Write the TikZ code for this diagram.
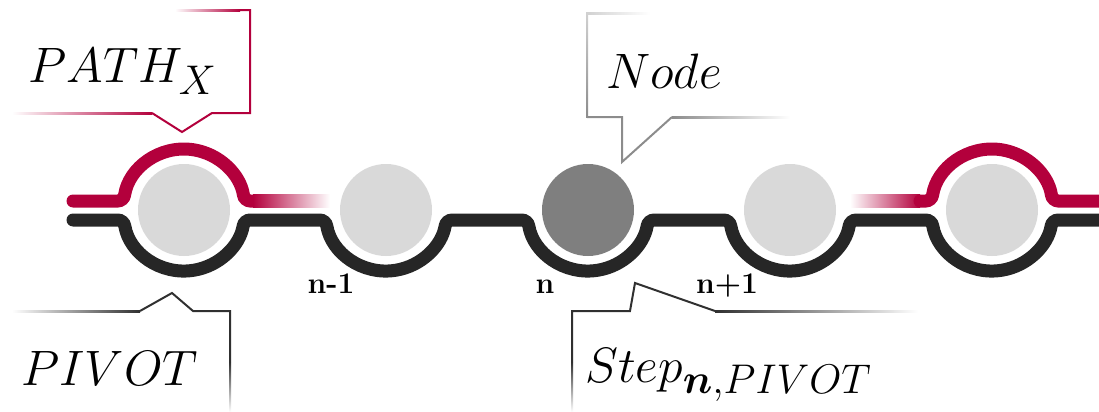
\documentclass[tikz,border=0pt]{standalone}
\usepackage{bm}
\usetikzlibrary{positioning}
\definecolor{PathRed}{HTML}{B3003C}
\definecolor{Track}{HTML}{262626}
\definecolor{DotGray}{HTML}{D9D9D9}
\definecolor{DotDark}{HTML}{7F7F7F}
\definecolor{TagGray}{HTML}{8C8C8C}
\definecolor{TagDark}{HTML}{303030}

\begin{document}
\begin{tikzpicture}[
    x=0.5pt, y=-0.5pt,
    dot/.style={circle, inner sep=0pt, minimum size=46pt},
    track/.style={line width=6.5pt, line cap=round, rounded corners=3pt},
    tag/.style={line width=1pt, line join=miter},
    tagtext/.style={font=\fontsize{31}{34}\selectfont, anchor=base west, inner sep=0pt},
    idx/.style={font=\fontsize{15}{17}\selectfont\bfseries, anchor=base, inner sep=0pt}
  ]
    \useasboundingbox (0,0) rectangle (1099,412);

    % nodes on the track
    \foreach \i/\cx/\col in {1/184/DotGray, 2/386/DotGray, 3/588/DotDark, 4/790/DotGray, 5/992/DotGray}
      \node[dot, fill=\col] (n\i) at (\cx,210) {};

    % black track
    \draw[track, Track] (73,220)
      \foreach \cx in {184,386,588,790,992} {
        -- (\cx-60.2,220) arc[start angle=170.6, end angle=9.4, radius=61]
      } -- (1110,220);

    % red path
    \draw[track, PathRed] (73,201) -- (123.7,201)
      arc[start angle=188.5, end angle=351.5, radius=61] -- (253,201);
    \shade[left color=PathRed, right color=white] (253,194.5) rectangle (330,207.5);
    \shade[left color=white, right color=PathRed] (850,194.5) rectangle (920,207.5);
    \draw[track, PathRed] (920,201) -- (931.7,201)
      arc[start angle=188.5, end angle=351.5, radius=61] -- (1110,201);

    % step indices
    \node[idx] (i2) at (331,293) {n-1};
    \node[idx] (i3) at (545,293) {n};
    \node[idx] (i4) at (727,293) {n+1};

    % callout: path
    \draw[tag, PathRed] (240,10) -- (250,10) -- (250,113) -- (212,113) -- (182,132) -- (152,113);
    \shade[left color=white, right color=PathRed] (175,9) rectangle (240,11);
    \shade[left color=white, right color=PathRed] (12,112) rectangle (152,114);
    \node[tagtext] (tpath) at (28,83) {$PATH_X$};

    % callout: node
    \draw[tag, TagGray] (587,117) -- (622,117) -- (622,162) -- (672,117);
    \shade[top color=TagGray!40, bottom color=TagGray] (586,12) rectangle (588,117);
    \shade[left color=TagGray!40, right color=white] (587,12) rectangle (650,14);
    \shade[left color=TagGray, right color=white] (672,116) rectangle (790,118);
    \node[tagtext] (tnode) at (606,88) {$Node$};

    % callout: pivot
    \draw[tag, TagDark] (140,311) -- (172,293) -- (193,311) -- (230,311) -- (230,362);
    \shade[left color=white, right color=TagDark] (12,310) rectangle (140,312);
    \shade[top color=TagDark, bottom color=white] (229,362) rectangle (231,412);
    \node[tagtext] (tpivot) at (21,385) {$PIVOT$};

    % callout: step
    \draw[tag, TagDark] (572,362) -- (572,311) -- (630,311) -- (635,283) -- (715,311);
    \shade[left color=TagDark, right color=white] (715,310) rectangle (918,312);
    \shade[top color=TagDark, bottom color=white] (571,362) rectangle (573,412);
    \node[tagtext] (tstep) at (585,382) {$Step_{\bm{n},PIVOT}$};
  \end{tikzpicture}
\end{document}
